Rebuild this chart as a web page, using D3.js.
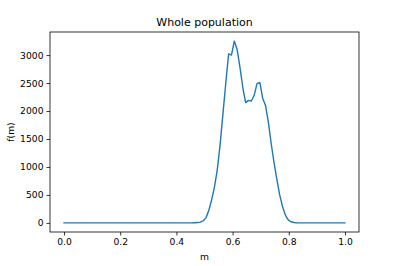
<!DOCTYPE html>
<html lang="en">
<head>
  <meta charset="UTF-8">
  <title>Whole population</title>
  <script src="https://d3js.org/d3.v7.min.js"></script>
  <style>
    body {
      margin: 0;
      padding: 0;
      background: #fff;
      font-family: "DejaVu Sans", sans-serif;
    }
    text {
      fill: #000;
    }
  </style>
</head>
<body>
<div id="chart"></div>

<script>
  // values of f(m), sampled on 100 evenly spaced points from 0 to 1
  const fValues = [
    0, 0, 0, 0, 0, 0, 0, 0, 0, 0,
    0, 0, 0, 0, 0, 0, 0, 0, 0, 0,
    0, 0, 0, 0, 0, 0, 0, 0, 0, 0,
    0, 0, 0, 0, 0, 0, 0, 0, 0, 0,
    0, 0, 0, 0, 0, 1, 3, 6, 14, 35,
    90, 220, 410, 640, 950, 1400, 1950, 2500, 3020, 3000,
    3250, 3100, 2780, 2420, 2150, 2190, 2180, 2280, 2490, 2510,
    2230, 2100, 1800, 1420, 1080, 780, 500, 290, 140, 55,
    20, 7, 2, 0, 0, 0, 0, 0, 0, 0,
    0, 0, 0, 0, 0, 0, 0, 0, 0, 0
  ];
  const mValues = d3.range(fValues.length).map(i => i / (fValues.length - 1));

  const xTicks = [0, 0.2, 0.4, 0.6, 0.8, 1.0];
  const yTicks = [0, 500, 1000, 1500, 2000, 2500, 3000];

  const width = 399,
        height = 266;
  const margin = {top: 32, right: 40, bottom: 34, left: 50};

  const svg = d3.select("#chart")
    .append("svg")
    .attr("width", width)
    .attr("height", height);

  const x = d3.scaleLinear()
    .domain([-0.05, 1.05])
    .range([margin.left, width - margin.right]);

  const fMax = d3.max(fValues);
  const y = d3.scaleLinear()
    .domain([-0.05 * fMax, 1.05 * fMax])
    .range([height - margin.bottom, margin.top]);

  // axes
  const xAxis = svg.append("g")
    .attr("transform", `translate(0, ${height - margin.bottom})`)
    .call(d3.axisBottom(x).tickValues(xTicks).tickFormat(d3.format(".1f")).tickSize(3.5).tickPadding(3));

  const yAxis = svg.append("g")
    .attr("transform", `translate(${margin.left}, 0)`)
    .call(d3.axisLeft(y).tickValues(yTicks).tickFormat(d3.format("d")).tickSize(3.5).tickPadding(3));

  [xAxis, yAxis].forEach(a => {
    a.select(".domain").remove();
    a.selectAll("line").attr("stroke", "#000").attr("stroke-width", 0.8);
    a.selectAll("text")
      .style("font-family", "DejaVu Sans")
      .style("font-size", "9.2px")
      .attr("fill", "#000");
  });

  // frame
  svg.append("rect")
    .attr("x", margin.left)
    .attr("y", margin.top)
    .attr("width", width - margin.left - margin.right)
    .attr("height", height - margin.top - margin.bottom)
    .attr("fill", "none")
    .attr("stroke", "#000")
    .attr("stroke-width", 0.8);

  // the curve
  const line = d3.line()
    .x((d, i) => x(mValues[i]))
    .y(d => y(d));

  svg.append("path")
    .datum(fValues)
    .attr("d", line)
    .attr("fill", "none")
    .attr("stroke", "#1f77b4")
    .attr("stroke-width", 1.4)
    .attr("stroke-linejoin", "round")
    .attr("stroke-linecap", "square");

  // labels
  svg.append("text")
    .attr("x", (margin.left + width - margin.right) / 2)
    .attr("y", margin.top - 6)
    .attr("text-anchor", "middle")
    .style("font-size", "11px")
    .text("Whole population");

  svg.append("text")
    .attr("x", (margin.left + width - margin.right) / 2)
    .attr("y", 260)
    .attr("text-anchor", "middle")
    .style("font-size", "9.2px")
    .text("m");

  svg.append("text")
    .attr("transform", `translate(14, ${(margin.top + height - margin.bottom) / 2}) rotate(-90)`)
    .attr("text-anchor", "middle")
    .style("font-size", "9.2px")
    .text("f(m)");
</script>
</body>
</html>
